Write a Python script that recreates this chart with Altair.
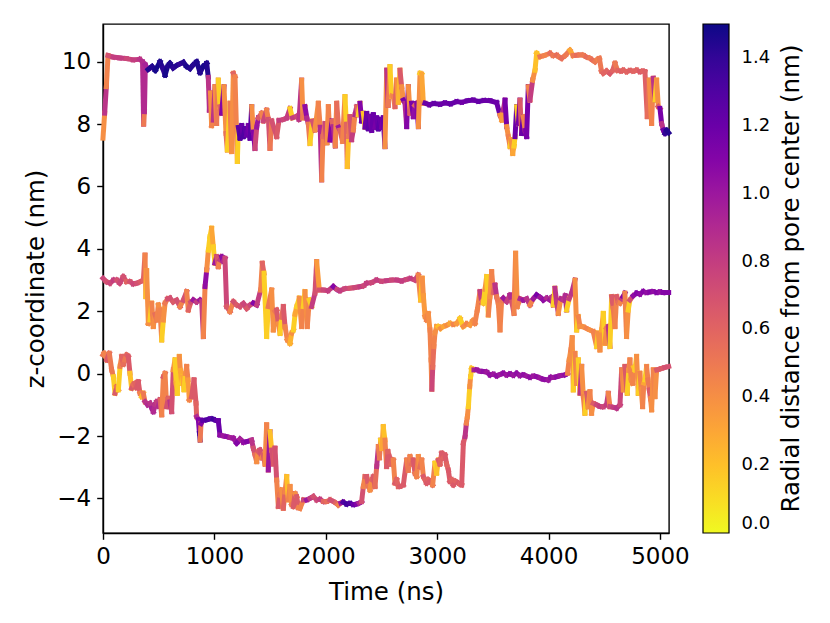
import altair as alt
import pandas as pd

# (time ns, z nm, radial distance nm)
top_traj = [
    (0, 7.55, 0.40), (15, 8.35, 0.85), (30, 9.20, 0.45), (45, 10.20, 0.70), (90, 10.15, 0.80),
    (150, 10.12, 0.80), (210, 10.10, 0.75), (270, 10.06, 0.80), (330, 10.08, 0.85), (355, 10.00, 0.90),
    (365, 8.00, 0.50), (372, 8.40, 0.90), (380, 9.90, 0.95), (405, 9.75, 1.45), (440, 9.85, 1.45),
    (470, 9.72, 1.48), (512, 10.00, 1.45), (535, 9.80, 1.42), (557, 9.57, 1.48), (580, 9.85, 1.45),
    (601, 9.95, 1.46), (630, 9.80, 1.42), (661, 9.88, 1.45), (690, 9.93, 1.40), (721, 9.98, 1.45),
    (750, 9.85, 1.47), (781, 9.78, 1.45), (810, 9.90, 1.44), (841, 10.00, 1.46), (871, 9.65, 1.45),
    (900, 9.85, 1.47), (931, 9.95, 1.45), (945, 9.50, 0.85), (955, 8.45, 0.90), (965, 9.00, 0.40),
    (975, 7.95, 0.45), (990, 8.13, 0.85), (1005, 9.20, 0.40), (1020, 8.02, 0.50), (1035, 9.41, 0.15),
    (1050, 8.56, 0.60), (1065, 8.35, 1.10), (1086, 9.20, 0.40), (1104, 7.70, 0.55), (1116, 7.17, 0.15),
    (1140, 8.67, 0.50), (1155, 7.12, 0.40), (1170, 9.63, 0.60), (1185, 9.52, 0.45), (1206, 6.80, 0.15),
    (1215, 7.90, 1.25), (1230, 7.55, 1.30), (1245, 7.95, 1.20), (1260, 7.60, 1.30), (1275, 7.85, 1.25),
    (1290, 7.65, 1.20), (1305, 7.95, 1.15), (1320, 7.55, 1.25), (1335, 8.56, 0.40), (1350, 7.75, 1.10),
    (1364, 7.22, 0.75), (1380, 7.90, 1.00), (1394, 8.20, 0.65), (1424, 8.35, 0.45), (1440, 8.10, 0.75),
    (1469, 8.45, 0.45), (1485, 8.15, 0.70), (1499, 7.22, 0.50), (1515, 8.10, 0.70), (1559, 7.60, 0.65),
    (1580, 8.12, 0.80), (1619, 8.15, 0.75), (1650, 8.20, 0.80), (1679, 8.50, 0.15), (1700, 8.20, 0.80),
    (1738, 8.25, 0.75), (1760, 8.15, 0.85), (1783, 9.41, 0.40), (1795, 8.20, 0.50), (1813, 8.56, 1.05),
    (1830, 8.20, 0.90), (1843, 8.00, 0.50), (1858, 7.38, 0.15), (1880, 8.10, 0.70), (1903, 7.81, 0.40),
    (1933, 8.67, 0.45), (1950, 7.90, 0.90), (1963, 6.21, 0.45), (1975, 7.60, 0.55), (1993, 8.02, 0.75),
    (2010, 7.40, 0.40), (2023, 8.56, 0.45), (2038, 7.49, 1.10), (2055, 8.10, 0.60), (2068, 7.92, 0.90),
    (2085, 7.30, 0.45), (2098, 8.67, 0.55), (2115, 7.90, 1.00), (2127, 7.81, 0.60), (2150, 7.45, 0.45),
    (2172, 8.88, 0.15), (2185, 8.00, 0.60), (2193, 6.64, 0.20), (2205, 7.60, 0.50), (2217, 8.24, 0.70),
    (2232, 7.50, 0.80), (2247, 7.81, 0.45), (2262, 8.30, 0.90), (2277, 8.56, 0.60), (2292, 8.30, 0.15),
    (2307, 8.67, 1.10), (2322, 8.10, 1.20), (2337, 8.35, 0.20), (2352, 7.90, 1.20), (2367, 8.34, 1.20),
    (2382, 7.85, 1.25), (2397, 8.25, 1.15), (2412, 7.80, 1.20), (2427, 8.30, 1.20), (2442, 7.90, 1.15),
    (2457, 8.20, 1.20), (2472, 7.85, 1.25), (2487, 8.15, 1.20), (2502, 7.90, 1.15), (2516, 8.20, 1.20),
    (2531, 7.28, 0.40), (2547, 9.73, 0.85), (2560, 8.60, 0.50), (2576, 9.84, 0.15), (2591, 8.90, 0.40),
    (2606, 8.88, 0.45), (2621, 8.56, 0.60), (2636, 9.41, 0.40), (2651, 8.70, 0.25), (2666, 9.73, 0.65),
    (2681, 9.20, 0.40), (2696, 8.77, 1.15), (2711, 8.67, 0.90), (2726, 7.92, 1.10), (2741, 9.20, 0.40),
    (2756, 8.35, 0.60), (2771, 8.67, 1.15), (2786, 8.24, 1.05), (2800, 8.60, 0.60), (2816, 8.67, 1.10),
    (2831, 7.92, 0.40), (2846, 9.63, 0.15), (2861, 9.60, 0.30), (2876, 8.67, 0.45), (2891, 8.67, 1.20),
    (2930, 8.62, 1.20), (2970, 8.66, 1.22), (3025, 8.64, 1.20), (3070, 8.68, 1.20), (3120, 8.65, 1.22),
    (3175, 8.72, 1.20), (3220, 8.70, 1.18), (3270, 8.75, 1.20), (3324, 8.77, 1.20), (3370, 8.73, 1.22),
    (3420, 8.76, 1.20), (3474, 8.75, 1.20), (3534, 8.69, 1.20), (3564, 8.29, 0.40), (3579, 8.13, 0.35),
    (3594, 8.45, 0.90), (3609, 8.77, 1.15), (3624, 7.92, 0.40), (3639, 7.60, 0.45), (3654, 7.28, 0.15),
    (3665, 7.50, 0.40), (3678, 7.06, 0.30), (3690, 7.30, 0.15), (3699, 7.60, 1.20), (3714, 8.56, 0.15),
    (3729, 8.02, 1.15), (3743, 8.77, 0.65), (3758, 7.70, 1.20), (3773, 8.24, 0.45), (3790, 7.80, 1.10),
    (3803, 7.60, 1.15), (3818, 9.20, 0.45), (3833, 8.77, 0.80), (3857, 9.41, 0.40), (3878, 9.73, 0.20),
    (3893, 10.27, 0.20), (3923, 10.16, 0.50), (3960, 10.20, 0.45), (4013, 10.27, 0.55), (4040, 10.20, 0.50),
    (4073, 10.21, 0.55), (4095, 10.15, 0.50), (4117, 10.11, 0.55), (4150, 10.20, 0.50), (4192, 10.37, 0.30),
    (4220, 10.20, 0.50), (4252, 10.21, 0.55), (4280, 10.22, 0.50), (4312, 10.21, 0.50), (4340, 10.15, 0.55),
    (4372, 10.11, 0.50), (4395, 10.05, 0.55), (4417, 10.00, 0.50), (4440, 10.08, 0.45), (4456, 10.11, 0.50),
    (4475, 9.70, 0.55), (4491, 9.63, 0.60), (4520, 9.70, 0.60), (4550, 9.62, 0.65), (4575, 9.72, 0.60),
    (4596, 9.95, 0.50), (4620, 9.72, 0.60), (4650, 9.70, 0.62), (4671, 9.73, 0.60), (4700, 9.68, 0.60),
    (4730, 9.72, 0.62), (4760, 9.70, 0.60), (4791, 9.73, 0.60), (4820, 9.68, 0.65), (4845, 9.70, 0.60),
    (4865, 9.68, 0.62), (4886, 8.24, 0.55), (4904, 9.41, 0.40), (4925, 8.02, 0.45), (4940, 9.47, 0.85),
    (4955, 8.77, 0.15), (4970, 9.41, 0.40), (4985, 8.56, 0.65), (5000, 8.50, 1.15), (5015, 8.02, 0.85),
    (5030, 7.81, 1.20), (5045, 7.70, 1.40), (5060, 7.80, 1.45), (5078, 7.72, 1.45),
]

mid_traj = [
    (0, 3.06, 0.75), (30, 2.95, 0.70), (63, 2.90, 0.75), (95, 3.00, 0.80), (123, 3.00, 0.70),
    (150, 2.90, 0.75), (182, 3.11, 0.70), (210, 2.95, 0.60), (242, 2.95, 0.70), (270, 2.88, 0.75),
    (302, 2.90, 0.70), (335, 2.95, 0.65), (362, 3.00, 0.60), (377, 3.80, 0.45), (385, 2.47, 0.20),
    (392, 3.30, 0.40), (407, 1.61, 0.40), (422, 1.72, 0.15), (437, 2.26, 0.45), (452, 1.51, 0.40),
    (467, 1.90, 0.55), (482, 1.72, 0.45), (497, 2.20, 0.40), (512, 2.04, 0.45), (527, 1.08, 0.15),
    (542, 1.72, 0.40), (557, 2.26, 0.50), (580, 2.40, 0.70), (601, 2.42, 0.70), (630, 2.30, 0.65),
    (661, 2.36, 0.70), (691, 2.15, 0.45), (720, 2.35, 0.70), (751, 2.63, 0.45), (766, 2.04, 0.60),
    (790, 2.30, 0.70), (811, 2.36, 1.00), (840, 2.30, 0.80), (871, 2.36, 1.00), (886, 2.31, 0.80),
    (901, 1.19, 0.45), (916, 2.79, 1.05), (931, 3.32, 0.40), (946, 3.96, 0.15), (960, 4.39, 0.15),
    (975, 4.66, 0.30), (990, 4.07, 0.15), (1005, 3.54, 1.00), (1020, 3.75, 0.70), (1035, 3.43, 0.45),
    (1050, 3.65, 0.80), (1065, 3.75, 1.05), (1080, 3.60, 0.90), (1095, 3.70, 0.75), (1110, 2.15, 0.65),
    (1140, 1.99, 0.45), (1170, 2.31, 0.70), (1200, 2.20, 0.65), (1230, 2.15, 0.70), (1260, 2.25, 0.75),
    (1290, 2.09, 0.65), (1320, 2.20, 0.75), (1350, 2.26, 1.10), (1380, 2.20, 0.80), (1415, 2.68, 0.45),
    (1430, 3.54, 0.60), (1445, 3.22, 0.15), (1469, 1.19, 0.15), (1484, 2.15, 0.50), (1514, 2.68, 0.40),
    (1529, 1.40, 0.40), (1544, 2.00, 0.50), (1559, 2.04, 0.65), (1574, 1.60, 0.40), (1589, 1.29, 0.15),
    (1604, 1.80, 0.55), (1619, 2.15, 0.65), (1634, 1.51, 0.45), (1655, 1.08, 0.40), (1679, 0.97, 0.25),
    (1694, 1.30, 0.40), (1709, 1.40, 0.15), (1724, 1.90, 0.30), (1739, 2.15, 0.15), (1762, 2.42, 0.40),
    (1783, 1.51, 0.45), (1798, 2.15, 0.15), (1813, 2.63, 0.40), (1834, 1.51, 0.45), (1852, 2.36, 0.15),
    (1873, 2.15, 0.80), (1903, 2.58, 0.70), (1918, 3.59, 0.35), (1942, 2.68, 0.70), (1978, 2.68, 0.75),
    (2020, 2.66, 0.80), (2068, 2.79, 1.10), (2100, 2.70, 0.75), (2127, 2.66, 0.80), (2170, 2.72, 0.75),
    (2217, 2.74, 0.70), (2260, 2.76, 0.75), (2307, 2.79, 0.80), (2340, 2.82, 0.75), (2367, 2.90, 0.80),
    (2410, 2.92, 0.75), (2456, 3.00, 0.80), (2500, 2.96, 0.75), (2546, 2.98, 0.80), (2590, 3.00, 0.75),
    (2636, 3.00, 0.80), (2680, 2.97, 0.80), (2726, 3.02, 0.75), (2760, 3.05, 0.80), (2800, 3.00, 0.75),
    (2830, 3.16, 0.45), (2851, 2.36, 0.20), (2866, 3.06, 0.40), (2876, 2.50, 0.35), (2891, 1.83, 0.40),
    (2905, 1.72, 0.45), (2920, 1.93, 0.40), (2935, 1.40, 0.45), (2945, 0.44, 0.45), (2952, -0.50, 0.75),
    (2960, 0.20, 0.55), (2970, 0.87, 0.45), (2980, 1.30, 0.40), (2995, 1.51, 0.35), (3010, 1.51, 0.20),
    (3030, 1.45, 0.40), (3055, 1.51, 0.30), (3085, 1.55, 0.40), (3115, 1.61, 0.30), (3145, 1.58, 0.45),
    (3175, 1.61, 0.35), (3205, 1.77, 0.15), (3234, 1.51, 0.40), (3265, 1.60, 0.45), (3294, 1.56, 0.35),
    (3320, 1.70, 0.40), (3339, 1.61, 0.45), (3360, 2.04, 0.45), (3384, 2.63, 0.80), (3400, 2.30, 0.45),
    (3414, 2.26, 0.15), (3430, 2.70, 0.40), (3444, 3.11, 0.15), (3459, 1.88, 0.45), (3474, 2.47, 0.40),
    (3489, 3.27, 0.45), (3505, 2.60, 0.60), (3519, 2.84, 0.85), (3534, 2.47, 0.50), (3550, 2.20, 0.45),
    (3564, 1.40, 0.45), (3579, 2.36, 0.50), (3594, 2.42, 1.00), (3624, 2.31, 0.80), (3653, 2.52, 0.90),
    (3670, 2.30, 0.70), (3689, 1.93, 0.45), (3704, 3.86, 0.40), (3719, 2.15, 0.45), (3745, 2.40, 0.90),
    (3773, 2.36, 1.00), (3803, 2.40, 0.85), (3833, 2.20, 0.45), (3863, 2.40, 1.00), (3893, 2.52, 1.15),
    (3923, 2.45, 1.00), (3953, 2.36, 1.05), (3983, 2.42, 0.90), (4012, 2.36, 1.00), (4030, 2.45, 0.85),
    (4042, 2.20, 0.15), (4057, 2.74, 0.85), (4072, 2.30, 0.80), (4087, 1.93, 0.40), (4110, 2.40, 0.90),
    (4132, 2.36, 0.85), (4150, 2.50, 0.90), (4162, 2.04, 0.15), (4185, 2.40, 0.80), (4207, 2.58, 0.85),
    (4237, 3.00, 0.40), (4252, 1.40, 0.15), (4267, 1.83, 0.45), (4282, 1.51, 0.40), (4310, 1.50, 0.40),
    (4341, 1.45, 0.45), (4370, 1.40, 0.40), (4401, 1.35, 0.45), (4431, 0.87, 0.15), (4446, 1.30, 0.40),
    (4461, 0.76, 0.40), (4476, 1.40, 0.30), (4491, 1.93, 0.15), (4506, 0.97, 0.40), (4520, 1.45, 0.45),
    (4536, 1.51, 0.85), (4551, 0.87, 0.15), (4566, 2.47, 0.65), (4580, 2.10, 0.50), (4596, 1.51, 0.45),
    (4611, 2.47, 0.65), (4626, 2.30, 0.55), (4641, 2.26, 0.45), (4656, 2.40, 0.80), (4670, 2.47, 1.10),
    (4685, 2.58, 0.45), (4700, 1.19, 0.40), (4715, 2.04, 0.15), (4730, 2.36, 0.70), (4760, 2.50, 1.05),
    (4790, 2.58, 1.10), (4820, 2.55, 1.05), (4850, 2.63, 1.10), (4880, 2.60, 1.05), (4910, 2.62, 1.10),
    (4940, 2.63, 1.05), (4970, 2.60, 1.10), (5000, 2.62, 1.05), (5029, 2.60, 1.10), (5078, 2.60, 1.05),
]

bot_traj = [
    (0, 0.60, 0.50), (9, 0.65, 0.45), (33, 0.44, 0.65), (57, 0.65, 0.50), (78, 0.12, 0.50),
    (93, -0.10, 0.15), (108, -0.63, 0.65), (123, -0.42, 0.50), (138, -0.52, 0.15), (153, 0.23, 0.45),
    (168, 0.55, 0.60), (182, 0.30, 0.55), (197, 0.44, 0.50), (212, 0.60, 0.60), (227, 0.55, 0.65),
    (242, 0.01, 0.20), (257, -0.47, 0.65), (272, -0.35, 0.55), (287, -0.31, 0.60), (302, -0.45, 0.65),
    (317, -0.26, 0.65), (332, -0.63, 0.45), (347, -0.74, 0.20), (362, -0.63, 0.50), (377, -0.90, 0.85),
    (400, -1.00, 0.90), (422, -0.95, 0.85), (437, -1.10, 0.95), (452, -1.22, 0.90), (467, -1.00, 0.85),
    (482, -0.90, 0.80), (497, -1.05, 0.90), (512, -0.84, 0.60), (527, -1.32, 0.45), (542, -0.10, 0.65),
    (557, 0.01, 0.45), (571, -1.06, 0.70), (586, -0.80, 0.60), (601, -0.90, 0.85), (616, -1.22, 0.70),
    (631, 0.12, 0.40), (646, 0.44, 0.15), (657, -0.30, 0.25), (667, -0.63, 0.15), (685, 0.55, 0.40),
    (695, 0.10, 0.30), (706, -0.31, 0.15), (716, -0.10, 0.30), (727, -0.52, 0.15), (740, 0.00, 0.40),
    (751, 0.23, 0.45), (763, -0.20, 0.35), (775, -0.84, 0.45), (796, -0.74, 0.65), (817, -0.20, 0.65),
    (835, -0.95, 0.60), (841, -1.38, 0.90), (856, -1.48, 1.10), (866, -1.91, 1.35), (872, -2.13, 0.50),
    (880, -1.60, 1.10), (895, -1.50, 1.25), (931, -1.48, 1.30), (960, -1.45, 1.25), (990, -1.46, 1.35),
    (1015, -1.50, 1.25), (1035, -1.51, 1.20), (1050, -1.97, 1.05), (1080, -2.00, 1.00), (1110, -2.02, 1.05),
    (1140, -2.05, 0.95), (1170, -2.07, 1.00), (1200, -2.23, 1.10), (1230, -2.10, 0.95), (1260, -2.20, 1.05),
    (1290, -2.18, 1.10), (1334, -2.13, 0.85), (1349, -2.39, 0.70), (1364, -2.60, 0.55), (1379, -2.82, 0.40),
    (1394, -2.50, 0.65), (1409, -2.45, 0.70), (1424, -2.70, 0.45), (1439, -2.61, 0.65), (1454, -2.90, 0.40),
    (1469, -1.64, 0.45), (1484, -3.09, 1.00), (1499, -1.86, 0.20), (1514, -2.45, 0.70), (1529, -2.90, 0.65),
    (1544, -2.39, 0.70), (1559, -3.41, 0.45), (1574, -4.26, 0.65), (1589, -3.90, 0.50), (1604, -3.73, 0.40),
    (1619, -4.32, 0.60), (1634, -3.80, 0.45), (1649, -3.30, 0.20), (1664, -4.05, 0.45), (1679, -3.62, 0.40),
    (1694, -4.20, 0.50), (1709, -4.26, 0.65), (1724, -3.85, 0.40), (1739, -3.94, 0.65), (1754, -4.30, 0.45),
    (1768, -4.32, 0.45), (1800, -4.05, 0.75), (1828, -4.05, 1.00), (1858, -4.00, 0.80), (1888, -3.94, 0.70),
    (1918, -4.05, 0.75), (1948, -4.03, 0.80), (1978, -4.10, 0.60), (2008, -4.10, 0.55), (2038, -4.05, 0.70),
    (2068, -4.10, 0.70), (2090, -4.15, 0.60), (2112, -4.21, 0.45), (2135, -4.15, 1.00), (2157, -4.12, 1.30),
    (2187, -4.18, 1.35), (2217, -4.16, 1.30), (2247, -4.20, 1.20), (2277, -4.18, 1.10), (2300, -4.15, 0.90),
    (2322, -4.10, 0.70), (2337, -3.62, 0.45), (2352, -3.30, 0.60), (2367, -3.30, 0.65), (2382, -3.60, 0.50),
    (2397, -3.73, 0.40), (2412, -3.40, 0.60), (2427, -3.30, 0.65), (2442, -3.62, 0.55), (2457, -2.98, 0.85),
    (2472, -2.34, 0.45), (2482, -2.70, 0.50), (2492, -2.13, 0.15), (2504, -2.40, 0.30), (2516, -1.70, 0.20),
    (2531, -2.13, 0.45), (2546, -2.98, 0.65), (2558, -2.50, 0.60), (2570, -2.66, 0.65), (2585, -2.90, 0.60),
    (2606, -2.77, 0.45), (2621, -3.51, 0.65), (2636, -3.40, 0.60), (2651, -3.62, 0.60), (2666, -3.62, 0.65),
    (2696, -3.57, 0.65), (2726, -2.77, 0.45), (2741, -3.10, 0.50), (2756, -2.66, 0.45), (2771, -2.90, 0.55),
    (2786, -2.77, 0.65), (2801, -3.20, 0.50), (2816, -3.30, 0.45), (2831, -2.66, 0.40), (2846, -3.00, 0.55),
    (2861, -2.77, 0.45), (2876, -3.30, 0.65), (2890, -3.40, 0.60), (2905, -3.51, 0.65), (2920, -3.40, 0.60),
    (2935, -3.46, 0.65), (2959, -3.57, 0.45), (2980, -2.87, 0.15), (2995, -3.19, 0.20), (3010, -2.77, 0.65),
    (3025, -2.90, 0.60), (3040, -2.55, 0.65), (3055, -2.70, 0.60), (3070, -2.61, 0.65), (3085, -2.90, 0.60),
    (3100, -3.09, 0.65), (3115, -3.46, 0.65), (3130, -3.40, 0.60), (3145, -3.57, 0.65), (3165, -3.45, 0.60),
    (3190, -3.51, 0.65), (3205, -3.55, 0.60), (3220, -3.57, 0.65), (3235, -2.23, 0.65), (3250, -2.02, 0.85),
    (3262, -1.59, 0.45), (3271, -1.38, 0.40), (3280, -1.06, 0.15), (3292, -0.42, 0.40), (3300, -0.10, 0.15),
    (3309, 0.17, 0.20), (3330, 0.12, 0.95), (3354, 0.12, 1.00), (3384, 0.08, 1.00), (3414, 0.07, 1.05),
    (3444, 0.05, 1.00), (3474, -0.04, 1.05), (3504, -0.02, 1.00), (3534, -0.07, 1.05), (3563, -0.03, 1.00),
    (3593, 0.01, 1.05), (3623, -0.04, 1.00), (3653, -0.01, 1.05), (3683, -0.05, 1.00), (3713, 0.01, 1.05),
    (3743, -0.06, 1.00), (3773, -0.04, 1.05), (3803, -0.08, 1.00), (3833, -0.12, 1.05), (3863, -0.08, 1.00),
    (3893, -0.10, 1.05), (3923, -0.14, 1.00), (3952, -0.18, 1.05), (3997, -0.20, 1.00), (4020, -0.12, 1.05),
    (4042, -0.12, 1.00), (4072, -0.10, 1.05), (4102, -0.07, 1.00), (4147, -0.04, 1.05), (4170, 0.01, 0.45),
    (4185, 0.44, 0.40), (4200, 0.76, 0.45), (4212, 1.15, 0.40), (4222, -0.52, 0.15), (4237, 0.65, 0.45),
    (4252, -0.31, 0.40), (4267, 0.44, 0.15), (4282, -0.63, 0.85), (4297, 0.23, 0.40), (4312, -0.74, 0.45),
    (4326, -1.27, 0.15), (4341, -0.63, 0.65), (4356, -1.06, 0.40), (4371, -0.58, 0.45), (4386, -1.27, 0.40),
    (4401, -0.95, 0.65), (4431, -1.00, 0.75), (4461, -1.05, 0.80), (4491, -1.06, 0.75), (4520, -1.00, 0.80),
    (4536, -0.63, 0.45), (4551, -1.06, 0.75), (4581, -1.08, 0.80), (4611, -1.11, 0.85), (4641, -1.00, 0.75),
    (4656, 0.12, 0.45), (4671, -0.52, 0.40), (4685, 0.23, 0.65), (4706, -0.63, 0.15), (4720, 0.10, 0.40),
    (4730, 0.44, 0.45), (4742, -0.20, 0.40), (4754, -0.31, 0.45), (4765, 0.20, 0.20), (4775, 0.12, 0.15),
    (4790, 0.55, 0.40), (4805, -0.63, 0.15), (4820, 0.01, 0.45), (4832, -0.50, 0.40), (4844, -1.06, 0.45),
    (4855, -0.30, 0.30), (4865, -0.20, 0.15), (4880, 0.23, 0.45), (4892, -0.20, 0.50), (4904, -0.52, 0.65),
    (4915, -0.80, 0.45), (4925, -1.16, 0.40), (4940, 0.12, 0.45), (4955, -0.74, 0.40), (4970, 0.12, 0.65),
    (4990, 0.14, 0.65), (5015, 0.17, 0.65), (5045, 0.20, 0.70), (5078, 0.23, 0.65),
]

x_ticks = [0, 1000, 2000, 3000, 4000, 5000]
y_ticks = [-4, -2, 0, 2, 4, 6, 8, 10]
cbar_ticks = [0.0, 0.2, 0.4, 0.6, 0.8, 1.0, 1.2, 1.4]
x_title = "Time (ns)"
y_title = "z-coordinate (nm)"
cbar_title = "Radial distance from pore center (nm)"

rows = []
for name, traj in [("top", top_traj), ("middle", mid_traj), ("bottom", bot_traj)]:
    for (t0, z0, r0), (t1, z1, r1) in zip(traj[:-1], traj[1:]):
        rows.append({"traj": name, "t": t0, "z": z0, "t2": t1, "z2": z1, "r": r0})
seg_df = pd.DataFrame(rows)

FONT = "DejaVu Sans"

segments = alt.Chart(seg_df).mark_rule(strokeWidth=5, strokeCap="square").encode(
    x=alt.X("t:Q",
            scale=alt.Scale(domain=[0, 5081], nice=False, zero=False),
            axis=alt.Axis(values=x_ticks, format="d", title=x_title, grid=False,
                          labelFontSize=23, titleFontSize=24.5, titleFontWeight="normal",
                          labelFont=FONT, titleFont=FONT, labelColor="black", titleColor="black",
                          tickSize=6.3, tickWidth=1.4, tickColor="black", labelPadding=6,
                          labelFlush=False, domainColor="black", domainWidth=1.4,
                          titleX=283, titleY=66, titleBaseline="alphabetic", titleAlign="center")),
    x2="t2:Q",
    y=alt.Y("z:Q",
            scale=alt.Scale(domain=[-5.11, 11.21], nice=False, zero=False),
            axis=alt.Axis(values=y_ticks, format="d", title=y_title, grid=False,
                          labelFontSize=23, titleFontSize=24.5, titleFontWeight="normal",
                          labelFont=FONT, titleFont=FONT, labelColor="black", titleColor="black",
                          tickSize=6.3, tickWidth=1.4, tickColor="black", labelPadding=6,
                          labelFlush=False, domainColor="black", domainWidth=1.4,
                          titleAngle=270, titleX=-60, titleY=254.5,
                          titleBaseline="alphabetic", titleAlign="center")),
    y2="z2:Q",
    color=alt.Color("r:Q",
                    scale=alt.Scale(scheme="plasma", reverse=True, domain=[0, 1.5]),
                    legend=alt.Legend(orient="none", legendX=600, legendY=0, direction="vertical",
                                      gradientLength=509, gradientThickness=26,
                                      gradientStrokeColor="black", gradientStrokeWidth=1.2,
                                      values=cbar_ticks, format=".1f", labelFontSize=18,
                                      labelFont=FONT, labelColor="black", labelOffset=12.6,
                                      labelBaseline="middle", labelOverlap=False,
                                      title=None, padding=0)),
)

cbar_label = alt.Chart(pd.DataFrame({"label": [cbar_title]})).mark_text(
    angle=270, fontSize=24.5, font=FONT, color="black", align="center", baseline="alphabetic"
).encode(x=alt.value(696), y=alt.value(254.5), text="label:N")

chart = alt.layer(segments, cbar_label).properties(
    width=566, height=509,
    padding={"left": 95, "top": 16, "right": 140, "bottom": 80},
    autosize=alt.AutoSizeParams(type="none"),
).configure(font=FONT, background="white").configure_view(stroke="black", strokeWidth=1.4)

chart.save("out.html", embed_options={"renderer": "svg", "actions": False})
